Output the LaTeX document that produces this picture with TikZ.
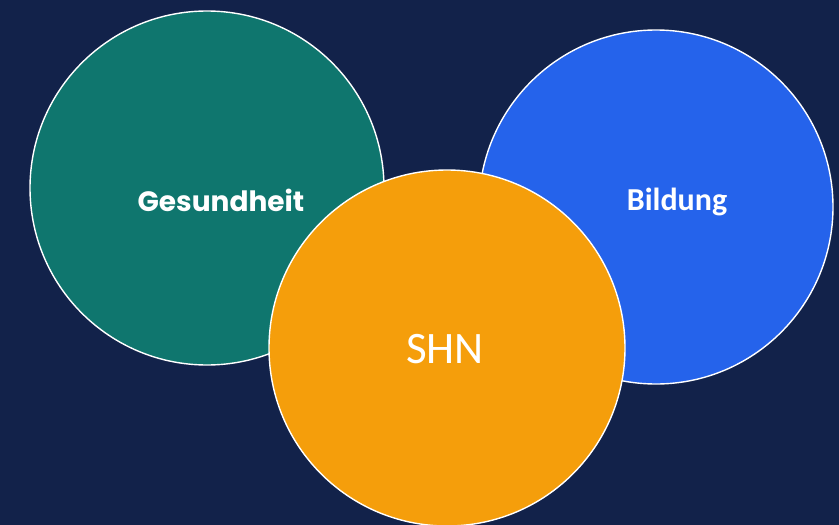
\documentclass[tikz,border=0pt]{standalone}
\usepackage{fontspec}
\setmainfont{Carlito}
\newfontfamily\popfont{Poppins}
\definecolor{navy}{HTML}{12224A}
\definecolor{tealgreen}{HTML}{0F766E}
\definecolor{brightblue}{HTML}{2563EB}
\definecolor{amber}{HTML}{F59E0B}
\begin{document}
\begin{tikzpicture}[
  x=1pt,y=-1pt,
  bubble/.style={circle,draw=white,line width=1.4pt,minimum size=354pt,inner sep=0pt},
  label/.style={text=white,anchor=center}
]
  \fill[navy] (0,0) rectangle (839,525);
  \useasboundingbox (0,0) rectangle (839,525);

  \node[bubble,fill=tealgreen] (health) at (207,188) {};
  \node[bubble,fill=brightblue] (edu) at (656,207) {};
  \node[bubble,fill=amber,minimum size=356pt] (shn) at (447,348) {};

  \node[label,font=\popfont\bfseries\fontsize{28}{34}\selectfont] (healthtxt) at (221,200) {Gesundheit};
  \node[label,font=\bfseries\fontsize{32}{38}\selectfont] (edutxt) at (677,202) {Bildung};
  \node[label,font=\fontsize{45}{54}\selectfont] (shntxt) at (445,349) {SHN};
\end{tikzpicture}
\end{document}
